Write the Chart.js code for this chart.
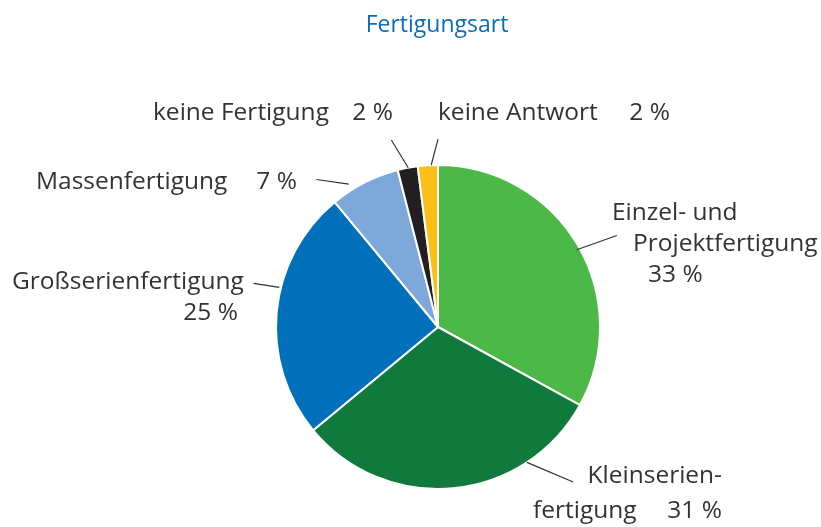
<!DOCTYPE html>
<html>
<head>
<meta charset="utf-8">
<script src="https://cdn.jsdelivr.net/npm/chart.js@4"></script>
<style>
  html, body { margin: 0; padding: 0; background: #fff; }
  #wrap { width: 821px; height: 527px; position: relative; }
</style>
</head>
<body>
<div id="wrap"><canvas id="chart" width="821" height="527"></canvas></div>
<script>
const title = "Fertigungsart";
const categories = ["Einzel- und Projektfertigung", "Kleinserienfertigung", "Großserienfertigung", "Massenfertigung", "keine Fertigung", "keine Antwort"];
const shares = [33, 31, 25, 7, 2, 2];
const colors = ["#4cb848", "#107a3c", "#0070ba", "#7ea8d9", "#231f20", "#fbc016"];

// label pieces: text, x, y, align
const labelLines = [
  [["Einzel- und", 612, 213, "left"], ["Projektfertigung", 633, 244, "left"], ["33 %", 648, 275, "left"]],
  [["Kleinserien-", 722, 476, "right"], ["fertigung", 533, 511, "left"], ["31 %", 722, 511, "right"]],
  [["Großserienfertigung", 12, 282, "left"], ["25 %", 238, 313, "right"]],
  [["Massenfertigung", 36, 182, "left"], ["7 %", 297, 182, "right"]],
  [["keine Fertigung", 153, 113, "left"], ["2 %", 393, 113, "right"]],
  [["keine Antwort", 438, 113, "left"], ["2 %", 670, 113, "right"]]
];
// leader lines: inner angle, inner radius factor, outer angle, outer radius factor (deg from top, clockwise)
const leaders = [
  [60.9, 0.98, 62.9, 1.24],
  [146.7, 1.0, 138.9, 1.27],
  [284, 1.01, 283.3, 1.17],
  [328, 1.04, 320.5, 1.18],
  [349.4, 1.0, 346, 1.19],
  [357.6, 1.0, 0, 1.16]
];

const labelPlugin = {
  id: "labels",
  afterDraw(chart) {
    const ctx = chart.ctx;
    const arc = chart.getDatasetMeta(0).data[0];
    const cx = arc.x, cy = arc.y, r = arc.outerRadius;
    ctx.save();
    ctx.fillStyle = "#0b6db5";
    ctx.font = "23px 'Open Sans'";
    ctx.textAlign = "center";
    ctx.textBaseline = "middle";
    ctx.fillText(title, 437, 25);

    ctx.strokeStyle = "#333";
    ctx.lineWidth = 1.2;
    leaders.forEach(l => {
      const a1 = l[0] * Math.PI / 180, a2 = l[2] * Math.PI / 180;
      ctx.beginPath();
      ctx.moveTo(cx + Math.sin(a1) * r * l[1], cy - Math.cos(a1) * r * l[1]);
      ctx.lineTo(cx + Math.sin(a2) * r * l[3], cy - Math.cos(a2) * r * l[3]);
      ctx.stroke();
    });

    ctx.fillStyle = "#333";
    ctx.font = "24.5px 'Open Sans'";
    labelLines.forEach(lines => {
      lines.forEach(t => {
        ctx.textAlign = t[3];
        ctx.fillText(t[0], t[1], t[2]);
      });
    });
    ctx.restore();
  }
};

new Chart(document.getElementById("chart"), {
  type: "pie",
  data: {
    labels: categories,
    datasets: [{
      data: shares,
      backgroundColor: colors,
      borderColor: "#fff",
      borderWidth: 2
    }]
  },
  options: {
    responsive: false,
    animation: false,
    layout: { padding: { left: 275, right: 220, top: 164, bottom: 37 } },
    plugins: {
      legend: { display: false },
      tooltip: { enabled: false }
    }
  },
  plugins: [labelPlugin]
});
</script>
</body>
</html>
